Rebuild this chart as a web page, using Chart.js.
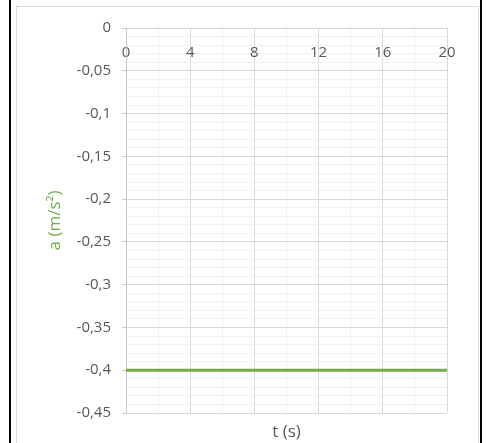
<!DOCTYPE html>
<html>
<head>
<meta charset="utf-8">
<script src="https://cdn.jsdelivr.net/npm/chart.js@4.4.1/dist/chart.umd.min.js"></script>
<style>
  html, body { margin: 0; padding: 0; background: #fff; }
  body { width: 486px; height: 443px; position: relative; overflow: hidden; }
  .edge { position: absolute; top: 0; bottom: 0; width: 2px; background: #000; }
  .frame { position: absolute; left: 16px; top: 6px; width: 461px; height: 460px; border: 1px solid #d9d9d9; }
  #wrap { position: absolute; left: 17px; top: 7px; width: 460px; height: 436px; }
</style>
</head>
<body>
<div class="edge" style="left:9px"></div>
<div class="edge" style="left:480px"></div>
<div class="frame"></div>
<div id="wrap"><canvas id="accelChart" width="460" height="436"></canvas></div>
<script>
// time (s) and acceleration (m/s^2)
const tValues = [0, 20];
const aValues = [-0.4, -0.4];

// labelled ticks
const xTicks = [0, 4, 8, 12, 16, 20];
const yTicks = [0, -0.05, -0.1, -0.15, -0.2, -0.25, -0.3, -0.35, -0.4, -0.45];

const xTitle = "t (s)";
const yTitle = "a (m/s²)";

const grey = "#595959";
const green = "#70AD47";
const family = "'Open Sans', 'Noto Sans', sans-serif";
const font = { family: family, size: 15 };

function fmt(v) {
    return String(Math.round(v * 100) / 100).replace(".", ",");
}

function isYMajor(v) {
    return yTicks.some(t => Math.abs(t - v) < 1e-6);
}

function isXMajor(v) {
    return xTicks.includes(v);
}

new Chart(document.getElementById("accelChart"), {
    type: "line",
    data: {
        datasets: [
            {
                data: tValues.map((t, i) => ({ x: t, y: aValues[i] })),
                borderColor: green,
                borderWidth: 3,
                pointRadius: 0,
                fill: false
            }
        ]
    },
    options: {
        responsive: false,
        animation: false,
        devicePixelRatio: 1,
        layout: { padding: { top: 21, right: 30, left: 0, bottom: 0 } },
        plugins: {
            legend: { display: false },
            tooltip: { enabled: false }
        },
        scales: {
            x: {
                type: "linear",
                position: { y: 0 },
                min: 0,
                max: 20,
                afterBuildTicks: s => {
                    // minor lines every 2 s
                    const t = [];
                    for (let v = 0; v <= 20; v += 2) t.push({ value: v });
                    s.ticks = t;
                },
                ticks: {
                    autoSkip: false,
                    maxRotation: 0,
                    padding: 16,
                    color: grey,
                    font: font,
                    callback: v => isXMajor(v) ? String(v) : ""
                },
                grid: {
                    drawTicks: false,
                    color: c => isXMajor(c.tick.value) ? "#d9d9d9" : "#f0f0f0"
                },
                border: { color: "#d9d9d9" }
            },
            x2: {
                type: "linear",
                position: "bottom",
                min: 0,
                max: 20,
                afterFit: s => { s.height = 30; },
                ticks: { display: false },
                grid: { display: false },
                border: { display: false },
                title: {
                    display: true,
                    text: xTitle,
                    color: grey,
                    font: { family: family, size: 17 },
                    padding: { top: 0, bottom: 1 }
                }
            },
            y: {
                type: "linear",
                min: -0.45,
                max: 0,
                afterFit: s => { s.width = 109; },
                afterBuildTicks: s => {
                    // minor lines every 0.01
                    const t = [];
                    for (let i = 0; i <= 45; i++) t.push({ value: -i / 100 });
                    s.ticks = t;
                },
                ticks: {
                    autoSkip: false,
                    padding: 11,
                    color: grey,
                    font: font,
                    callback: v => isYMajor(v) ? fmt(v) : ""
                },
                grid: {
                    tickLength: 4,
                    color: c => isYMajor(c.tick.value) ? "#d9d9d9" : "#f0f0f0",
                    tickColor: c => isYMajor(c.tick.value) ? "#c8c8c8" : "rgba(0,0,0,0)"
                },
                border: { color: "#c8c8c8" },
                title: {
                    display: true,
                    text: yTitle,
                    color: green,
                    font: { family: family, size: 17 },
                    padding: { top: 28, bottom: 0 }
                }
            }
        }
    }
});
</script>
</body>
</html>
